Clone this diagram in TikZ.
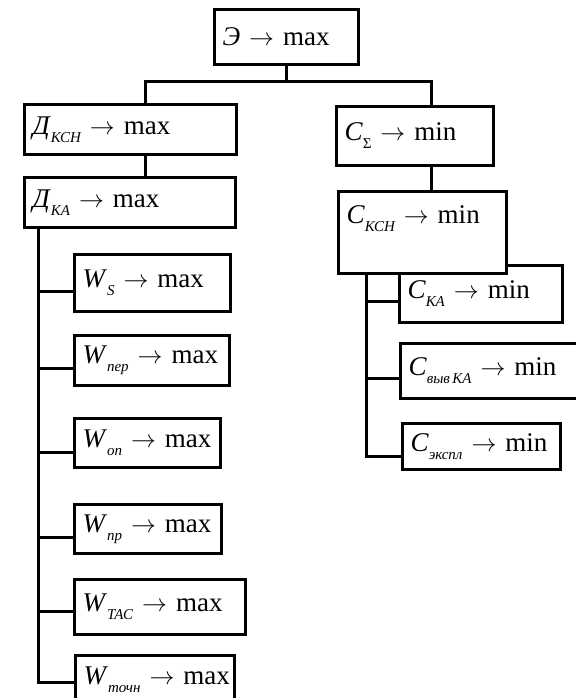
\documentclass[tikz,border=0pt]{standalone}
\usepackage{fontspec}
\setmainfont{Liberation Serif}
\usetikzlibrary{positioning,calc}
\newcommand{\subidx}[1]{\raisebox{-8pt}{\fontsize{15}{15}\selectfont\itshape #1}}
\tikzset{
  crit/.style={draw, line width=3pt, fill=white, anchor=north west, inner xsep=8pt,
               inner ysep=0pt, align=left, font=\fontsize{27}{30}\selectfont},
  l/.style={line width=3pt},
}

\begin{document}
\begin{tikzpicture}[x=1pt,y=-1pt]
  \useasboundingbox (0,0) rectangle (575,698);
  % top level
  \node[crit,text width=128pt,minimum height=55pt] (E) at (213,8) {\textit{Э}~$\rightarrow$~max};
  % left branch
  \node[crit,text width=196pt,minimum height=50pt] (DKSN) at (23,103) {\textit{Д}\subidx{КСН}~$\rightarrow$~max};
  \node[crit,text width=195pt,minimum height=50pt] (DKA) at (23,176) {\textit{Д}\subidx{КА}~$\rightarrow$~max};
  \node[crit,text width=140pt,minimum height=57pt] (WS) at (73,253) {\textit{W}\subidx{S}~$\rightarrow$~max};
  \node[crit,text width=139pt,minimum height=50pt] (Wper) at (73,334) {\textit{W}\subidx{пер}~$\rightarrow$~max};
  \node[crit,text width=130pt,minimum height=49pt] (Won) at (73,417) {\textit{W}\subidx{оп}~$\rightarrow$~max};
  \node[crit,text width=131pt,minimum height=49pt] (Wpr) at (73,503) {\textit{W}\subidx{пр}~$\rightarrow$~max};
  \node[crit,text width=155pt,minimum height=55pt] (WTAC) at (73,578) {\textit{W}\subidx{ТАС}~$\rightarrow$~max};
  \node[crit,text width=143pt,minimum height=48pt] (Wtochn) at (74,654) {\textit{W}\subidx{точн}~$\rightarrow$~max};
  % right branch
  \node[crit,text width=141pt,minimum height=59pt] (CS) at (335,105) {\textit{C}\subidx{\upshape Σ}~$\rightarrow$~min};
  \node[crit,text width=147pt,minimum height=57pt] (CKA) at (398,264) {\textit{C}\subidx{КА}~$\rightarrow$~min};
  \node[crit,text width=152pt,minimum height=82pt,text depth=36pt] (CKSN) at (337,190) {\textit{C}\subidx{КСН}~$\rightarrow$~min};
  \node[crit,text width=162pt,minimum height=55pt] (Cvyv) at (399,342) {\textit{C}\subidx{выв\,КА}~$\rightarrow$~min};
  \node[crit,text width=142pt,minimum height=46pt] (Cexpl) at (401,422) {\textit{C}\subidx{экспл}~$\rightarrow$~min};

  \draw[l] (E.south) -- ++(0,16) coordinate (bus);
  \draw[l] ([xshift=15pt]DKSN.north) |- (bus) -| ([xshift=16.5pt]CS.north);
  \draw[l] ([xshift=15pt]DKSN.south) -- ([xshift=15.5pt]DKA.north);
  \draw[l] ([xshift=16.5pt]CS.south) -- ([xshift=9pt]CKSN.north);
  % left trunk
  \draw[l] ([xshift=15pt]DKA.south west) |- ([yshift=-3pt]Wtochn.west);
  \foreach \n/\dy in {WS/8,Wper/8,Won/9,Wpr/8,WTAC/4}
    \draw[l] ([yshift=-\dy pt]\n.west) -- ++(-35,0);
  % right trunk
  \draw[l] ([xshift=29pt]CKSN.south west) |- ([yshift=-10pt]Cexpl.west);
  \draw[l] ([yshift=-7.5pt]CKA.west) -- ++(-32,0);
  \draw[l] ([yshift=-7.5pt]Cvyv.west) -- ++(-33,0);
\end{tikzpicture}
\end{document}
